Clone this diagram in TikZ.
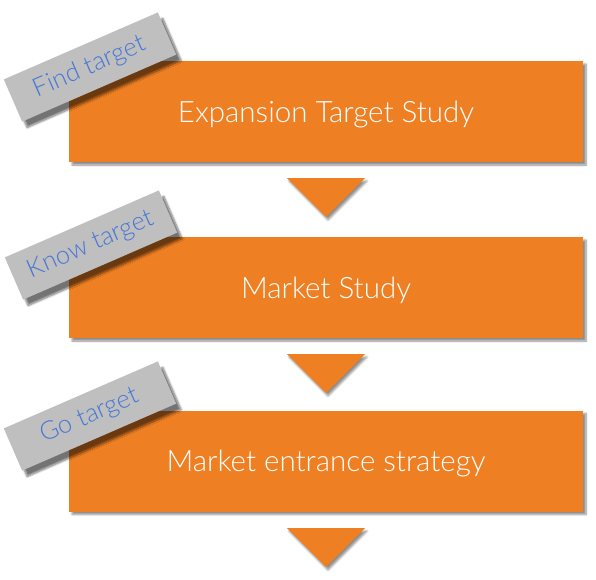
\documentclass[tikz,border=0pt]{standalone}
\usepackage{fontspec}
\setmainfont{Lato Light}
\usetikzlibrary{shadows.blur,calc}
\definecolor{boxorange}{HTML}{EE7F22}
\definecolor{taggray}{HTML}{BFBFBF}
\definecolor{tagblue}{HTML}{4676D6}
\tikzset{
  stepbox/.style={fill=boxorange, minimum width=514pt, minimum height=101pt, inner sep=0pt,
    text=white, font=\fontsize{29.5}{32}\selectfont, text depth=0pt,
    blur shadow={shadow xshift=3pt, shadow yshift=-3pt, shadow blur steps=8, shadow opacity=45}},
  tagbox/.style={fill=taggray, minimum width=168pt, minimum height=46pt, inner sep=0pt,
    rotate=23.5, text=tagblue, font=\fontsize{25.5}{28}\selectfont,
    blur shadow={shadow xshift=5pt, shadow yshift=-6pt, shadow blur steps=8, shadow opacity=55}},
  arrowtri/.style={fill=boxorange,
    blur shadow={shadow xshift=2pt, shadow yshift=-3pt, shadow blur steps=6, shadow opacity=45}}
}
\begin{document}
\begin{tikzpicture}[x=1pt,y=-1pt]
\useasboundingbox (0,0) rectangle (596,579);
\node[stepbox] (b1) at (326,111.5) {Expansion Target Study};
\node[stepbox] (b2) at (326,287.5) {Market Study};
\node[stepbox] (b3) at (326,461) {Market entrance strategy};
\coordinate (t1) at (326,178);
\coordinate (t2) at (326,354);
\coordinate (t3) at (326,528);
\path[arrowtri] ($(t1)+(-39,0)$) -- ($(t1)+(39,0)$) -- ($(t1)+(0,39)$) -- cycle;
\path[arrowtri] ($(t2)+(-39,0)$) -- ($(t2)+(39,0)$) -- ($(t2)+(0,39)$) -- cycle;
\path[arrowtri] ($(t3)+(-39,0)$) -- ($(t3)+(39,0)$) -- ($(t3)+(0,39)$) -- cycle;
\node[tagbox] (g1) at (90,67) {Find target};
\node[tagbox] (g2) at (91,245) {Know target};
\node[tagbox] (g3) at (90,416) {Go target};
\end{tikzpicture}
\end{document}
